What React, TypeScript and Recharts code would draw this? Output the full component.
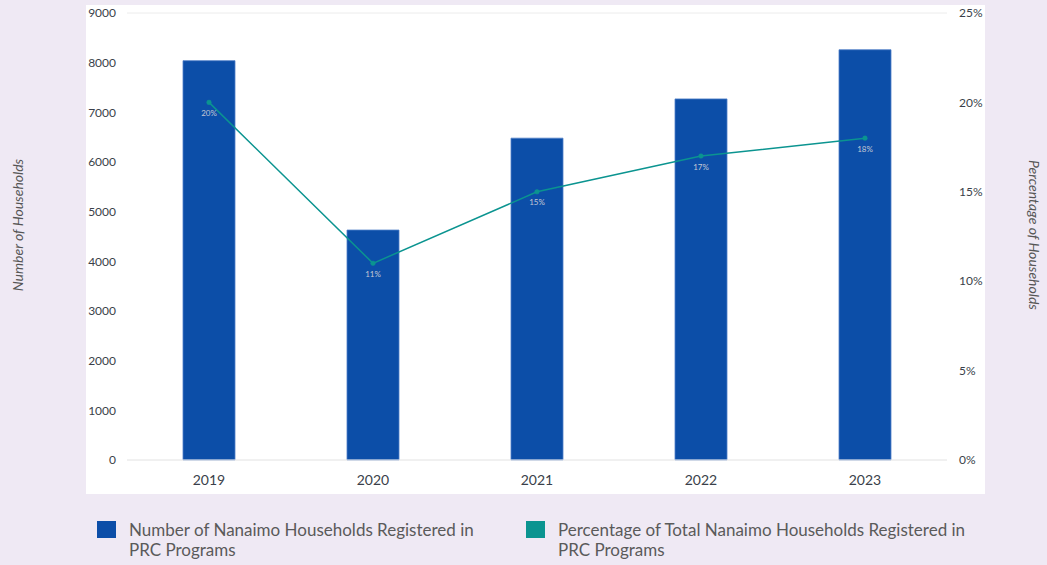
import {
  ComposedChart,
  Bar,
  Line,
  XAxis,
  YAxis,
  CartesianGrid,
  LabelList,
} from "recharts";

const years = ["2019", "2020", "2021", "2022", "2023"];
const households = [8040, 4630, 6480, 7270, 8260];
const percentages = [20, 11, 15, 17, 18];
const leftTicks = [0, 1000, 2000, 3000, 4000, 5000, 6000, 7000, 8000, 9000];
const rightTicks = [0, 5, 10, 15, 20, 25];

const data = years.map((year, i) => ({
  year,
  households: households[i],
  pct: percentages[i],
}));

const FONT = "Lato, 'Open Sans', sans-serif";
const BAR_BLUE = "#0c4ea8";
const TEAL = "#0b9490";

function LegendItem({
  color,
  text,
  left,
  width,
}: {
  color: string;
  text: string;
  left: number;
  width: number;
}) {
  return (
    <div style={{ position: "absolute", left, top: 521, display: "flex" }}>
      <div style={{ width: 19, height: 17, background: color, flexShrink: 0 }} />
      <div
        style={{
          marginLeft: 13,
          marginTop: -1,
          width,
          fontSize: 17,
          lineHeight: "20px",
          color: "#5a5a5a",
          fontFamily: FONT,
        }}
      >
        {text}
      </div>
    </div>
  );
}

export default function App() {
  return (
    <div
      style={{
        position: "absolute",
        left: 0,
        top: 0,
        width: 1047,
        height: 565,
        background: "#efe9f4",
        fontFamily: FONT,
        overflow: "hidden",
      }}
    >
      <div
        style={{
          position: "absolute",
          left: 86,
          top: 5,
          width: 899,
          height: 489,
          background: "#ffffff",
        }}
      />
      <div style={{ position: "absolute", left: 0, top: 0 }}>
        <ComposedChart
          width={1047}
          height={565}
          data={data}
          margin={{ top: 13, right: 60, bottom: 75, left: 87 }}
        >
          <CartesianGrid vertical={false} stroke="#ececec" />
          <XAxis
            dataKey="year"
            axisLine={{ stroke: "#ececec" }}
            tickLine={false}
            tickMargin={9}
            height={30}
            tick={{ fill: "#3a3f4a", fontSize: 14, fontFamily: FONT }}
          />
          <YAxis
            yAxisId="left"
            domain={[0, 9000]}
            ticks={leftTicks}
            width={40}
            axisLine={false}
            tickLine={false}
            tickMargin={5}
            interval={0}
            tick={{ fill: "#3a3f4a", fontSize: 12, fontFamily: FONT }}
          />
          <YAxis
            yAxisId="right"
            orientation="right"
            domain={[0, 25]}
            ticks={rightTicks}
            width={40}
            axisLine={false}
            tickLine={false}
            tickMargin={6}
            interval={0}
            tickFormatter={(v: number) => `${v}%`}
            tick={{ fill: "#3a3f4a", fontSize: 12, fontFamily: FONT }}
          />
          <Bar
            yAxisId="left"
            dataKey="households"
            fill={BAR_BLUE}
            stroke="#4f7fc8"
            strokeWidth={0.8}
            barSize={52}
            isAnimationActive={false}
          />
          <Line
            yAxisId="right"
            dataKey="pct"
            stroke={TEAL}
            strokeWidth={1.5}
            dot={{ r: 2.3, fill: TEAL, stroke: TEAL, strokeWidth: 0.5 }}
            activeDot={false}
            isAnimationActive={false}
          >
            <LabelList
              dataKey="pct"
              position="bottom"
              offset={8}
              formatter={(v: number) => `${v}%`}
              style={{ fill: "#c3c8d4", fontSize: 8, fontFamily: FONT }}
            />
          </Line>
        </ComposedChart>
      </div>
      <div
        style={{
          position: "absolute",
          left: 17,
          top: 225,
          transform: "translate(-50%, -50%) rotate(-90deg)",
          whiteSpace: "nowrap",
          fontStyle: "italic",
          fontSize: 14,
          color: "#555",
        }}
      >
        Number of Households
      </div>
      <div
        style={{
          position: "absolute",
          left: 1034,
          top: 235,
          transform: "translate(-50%, -50%) rotate(90deg)",
          whiteSpace: "nowrap",
          fontStyle: "italic",
          fontSize: 14,
          color: "#555",
        }}
      >
        Percentage of Households
      </div>
      <LegendItem
        color={BAR_BLUE}
        left={97}
        width={360}
        text="Number of Nanaimo Households Registered in PRC Programs"
      />
      <LegendItem
        color={TEAL}
        left={526}
        width={425}
        text="Percentage of Total Nanaimo Households Registered in PRC Programs"
      />
    </div>
  );
}
